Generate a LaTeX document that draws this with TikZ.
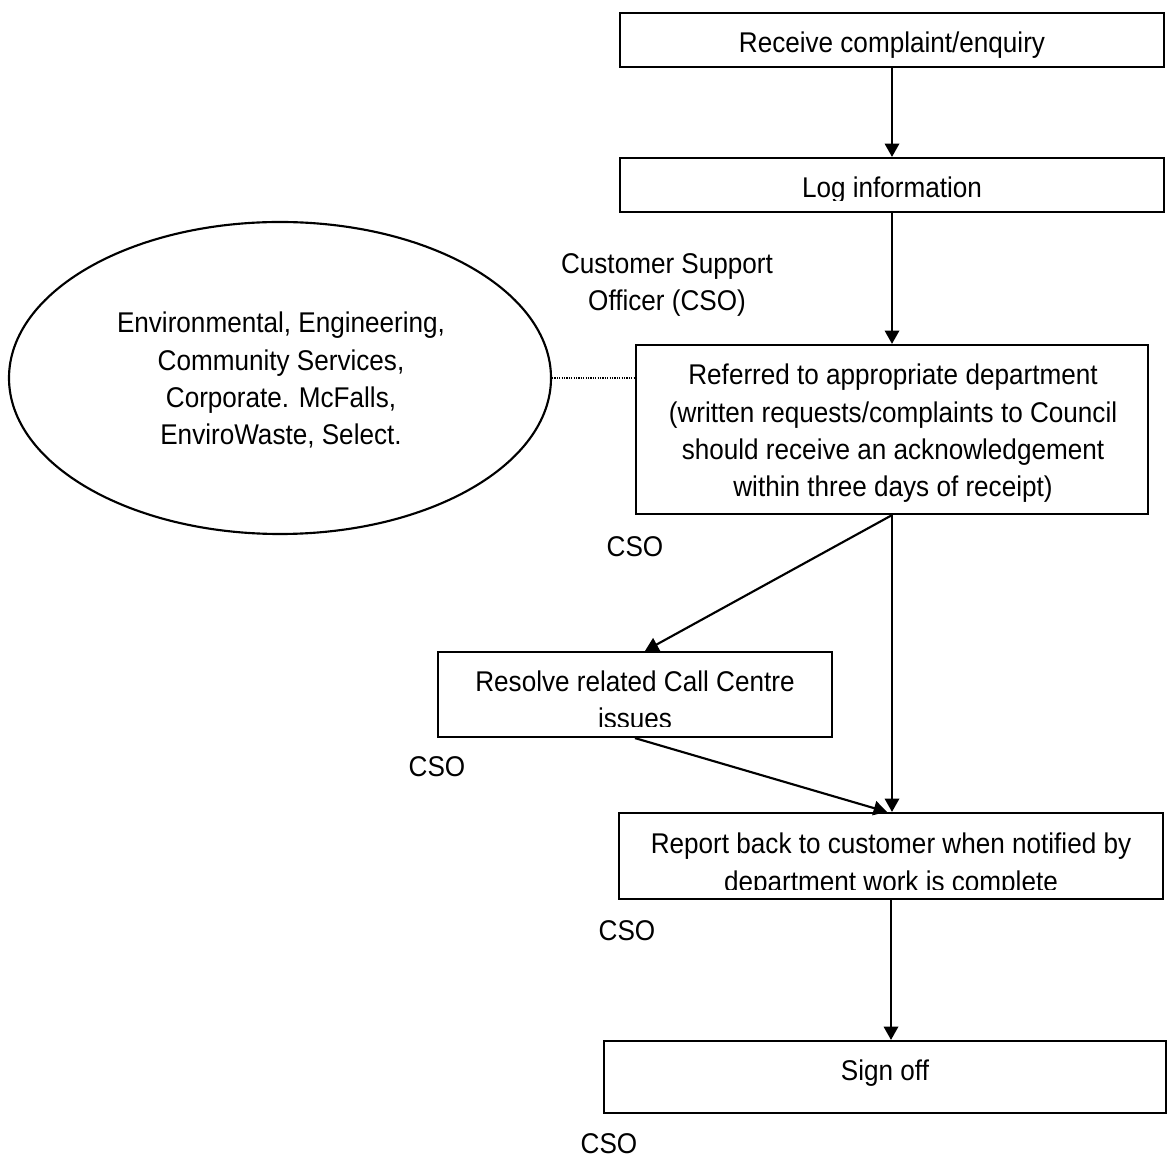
\documentclass[tikz,border=0pt]{standalone}
\usepackage{fontspec}
\setmainfont{Liberation Sans}[FakeStretch=0.915]
\usetikzlibrary{arrows.meta,shapes.geometric}

\begin{document}
\begin{tikzpicture}[
    x=0.375pt, y=-0.375pt,
    box/.style={rectangle, draw, line width=0.8pt, inner sep=0pt},
    txt/.style={font=\fontsize{10.7}{14}\selectfont, align=center, inner sep=0pt, anchor=base},
    arr/.style={-{Triangle[length=5pt,width=5.4pt]}, line width=0.8pt}
]
    \useasboundingbox (0,0) rectangle (1167,1157);

    \node[box, minimum width=204pt, minimum height=20.25pt] (receive) at (892,40) {};
    \node[box, minimum width=204pt, minimum height=20.25pt] (log) at (892,185) {};
    \node[box, minimum width=192pt, minimum height=63.4pt] (referred) at (892,429.5) {};
    \node[box, minimum width=147.75pt, minimum height=31.9pt] (resolve) at (635,694.5) {};
    \node[box, minimum width=204pt, minimum height=32.25pt] (report) at (891,856) {};
    \node[box, minimum width=210.75pt, minimum height=27pt] (signoff) at (885,1077) {};
    \node[draw, ellipse, line width=0.8pt, minimum width=203.25pt, minimum height=117pt] (dept) at (280,378) {};

    \begin{scope}
        \clip (620,13) rectangle (1164,58);
        \node[txt] (receivetxt) at (892,53) {Receive complaint/enquiry};
    \end{scope}
    \begin{scope}
        \clip (620,158) rectangle (1164,201);
        \node[txt] (logtxt) at (892,198) {Log information};
    \end{scope}
    \node[txt] (referredtxt) at (893,497) {Referred to appropriate department\\(written requests/complaints to Council\\should receive an acknowledgement\\within three days of receipt)};
    \begin{scope}
        \clip (438,652) rectangle (832,727);
        \node[txt] (resolvetxt) at (635,729) {Resolve related Call Centre\\issues};
    \end{scope}
    \begin{scope}
        \clip (619,813) rectangle (1163,889);
        \node[txt] (reporttxt) at (891,891) {Report back to customer when notified by\\department work is complete};
    \end{scope}
    \node[txt] (signofftxt) at (885,1080) {Sign off};
    \node[txt] (depttxt) at (281,445) {Environmental, Engineering,\\Community Services,\\Corporate. McFalls,\\EnviroWaste, Select.};

    \node[txt] (csolabel) at (667,311) {Customer Support\\Officer (CSO)};
    \node[txt] (cso1) at (635,557) {CSO};
    \node[txt] (cso2) at (437,777) {CSO};
    \node[txt] (cso3) at (627,940) {CSO};
    \node[txt] (cso4) at (609,1153) {CSO};

    \draw[arr] (receive) -- (log);
    \draw[arr] (log.south) -- (log.south |- referred.north);
    \draw[arr] (referred.south) -- ([xshift=3.75pt]resolve.north);
    \draw[arr] (referred.south) -- (referred.south |- report.north);
    \draw[arr] (resolve.south) -- ([xshift=-1.5pt]report.north);
    \draw[arr] (report.south) -- (report.south |- signoff.north);
    \draw[line width=0.4pt, dash pattern=on 0.4pt off 0.5pt] (dept.east) -- (dept.east -| referred.west);
\end{tikzpicture}
\end{document}
